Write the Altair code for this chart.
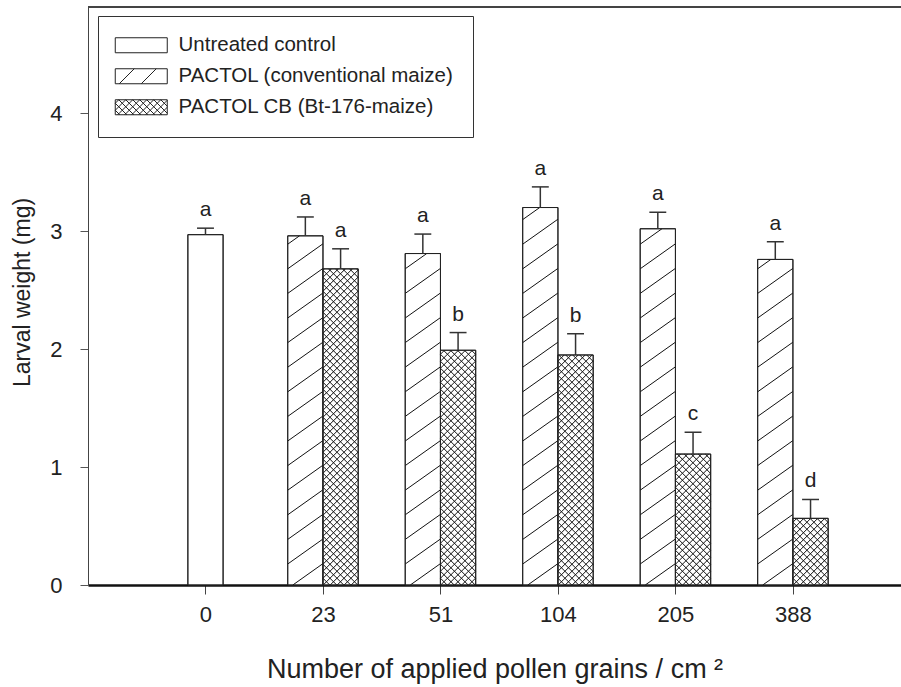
import altair as alt
import pandas as pd

# ---------------- data ----------------
categories = ["0", "23", "51", "104", "205", "388"]
series_names = ["Untreated control", "PACTOL (conventional maize)", "PACTOL CB (Bt-176-maize)"]

control_mean = [2.97]
control_se = [0.055]
control_letters = ["a"]

pactol_mean = [2.96, 2.81, 3.20, 3.02, 2.76]
pactol_se = [0.16, 0.165, 0.175, 0.14, 0.15]
pactol_letters = ["a", "a", "a", "a", "a"]

cb_mean = [2.68, 1.99, 1.95, 1.11, 0.565]
cb_se = [0.17, 0.15, 0.18, 0.185, 0.16]
cb_letters = ["a", "b", "b", "c", "d"]

# ---------------- layout ----------------
W, H = 813, 578
XDOM = [-1, 5.92]
YDOM = [0, 4.9]
BW = 0.3      # bar width in category units
CAP = 0.072   # half cap width
SX = W / (XDOM[1] - XDOM[0])
SY = H / (YDOM[1] - YDOM[0])
FONT = "Liberation Sans"
INK = "#222222"

rows = []
for i, (m, s, l) in enumerate(zip(control_mean, control_se, control_letters)):
    rows.append(dict(series=series_names[0], xc=i, x1=i - BW / 2, x2=i + BW / 2, value=m, upper=m + s, letter=l))
for j, (m, s, l) in enumerate(zip(pactol_mean, pactol_se, pactol_letters)):
    i = j + 1
    rows.append(dict(series=series_names[1], xc=i - BW / 2, x1=i - BW, x2=i, value=m, upper=m + s, letter=l))
for j, (m, s, l) in enumerate(zip(cb_mean, cb_se, cb_letters)):
    i = j + 1
    rows.append(dict(series=series_names[2], xc=i + BW / 2, x1=i, x2=i + BW, value=m, upper=m + s, letter=l))
df = pd.DataFrame(rows)
df["cap1"] = df["xc"] - CAP
df["cap2"] = df["xc"] + CAP


def clip(x0, y0, x1, y1, xmin, xmax, ymin, ymax):
    dx, dy = x1 - x0, y1 - y0
    t0, t1 = 0.0, 1.0
    for p, q in ((-dx, x0 - xmin), (dx, xmax - x0), (-dy, y0 - ymin), (dy, ymax - y0)):
        if p == 0:
            if q < 0:
                return None
        else:
            t = q / p
            if p < 0:
                if t > t1:
                    return None
                t0 = max(t0, t)
            else:
                if t < t0:
                    return None
                t1 = min(t1, t)
    if t1 - t0 <= 1e-9:
        return None
    return (x0 + t0 * dx, y0 + t0 * dy, x0 + t1 * dx, y0 + t1 * dy)


# hatch segments derived from the bars (in pixel-equivalent units, converted back)
segs = []
for r in df.itertuples():
    L, R, Hh = r.x1 * SX, r.x2 * SX, r.value * SY
    w = R - L
    if r.series == series_names[1]:
        k = -3
        while True:
            yl = 21 + 24.6 * k
            if yl > Hh + 30:
                break
            c = clip(L, yl, R, yl + 25, L, R, 0, Hh)
            if c and ((c[2] - c[0]) ** 2 + (c[3] - c[1]) ** 2) > 1:
                segs.append(c)
            k += 1
    elif r.series == series_names[2]:
        step = 7.0
        b = -w - step
        while b < Hh + w + step:
            for (ya, yb) in ((b, b + w), (b, b - w)):
                c = clip(L, ya, R, yb, L, R, 0, Hh)
                if c and ((c[2] - c[0]) ** 2 + (c[3] - c[1]) ** 2) > 1:
                    segs.append(c)
            b += step
hatch = pd.DataFrame([dict(hx=a / SX, hx2=c / SX, hy=b / SY, hy2=d / SY) for a, b, c, d in segs])

# ---------------- legend symbols (custom SVG paths) ----------------
SC = 8.0  # px per symbol unit (sqrt(256)/2)
RX0, RX1, RY0, RY1 = -12, 40, -7.5, 7.5


def pth(x0, y0, x1, y1):
    return f"M{x0 / SC:.3f},{y0 / SC:.3f}L{x1 / SC:.3f},{y1 / SC:.3f}"


rect = f"M{RX0 / SC:.4f},{RY0 / SC:.4f}H{RX1 / SC:.4f}V{RY1 / SC:.4f}H{RX0 / SC:.4f}Z"
sym_plain = rect
sym_hatch = rect + "".join(pth(x0, RY1, x0 + 15, RY0) for x0 in (-8, 14))
cross = []
b = -60.0
while b < 60:
    for (ya, yb) in ((b, b + 52), (b, b - 52)):
        c = clip(RX0, ya, RX1, yb, RX0, RX1, RY0, RY1)
        if c and ((c[2] - c[0]) ** 2 + (c[3] - c[1]) ** 2) > 1:
            cross.append(pth(*c))
    b += 7.0
sym_cross = rect + "".join(cross)

# ---------------- chart ----------------
xs = alt.Scale(domain=XDOM, nice=False, zero=False)
ys = alt.Scale(domain=YDOM, nice=False, zero=False)
label_js = "[" + ",".join(f"'{c}'" for c in categories) + "][datum.value]"
x_axis = alt.Axis(values=list(range(len(categories))), labelExpr=label_js, grid=False,
                  tickSize=9, tickColor="#444444", domainColor="#111111", domainWidth=2.5,
                  labelFontSize=22, labelPadding=10, labelColor=INK, labelFont=FONT,
                  title="Number of applied pollen grains / cm \u00b2", titleFont=FONT,
                  titleFontSize=27, titleFontWeight="normal", titleColor=INK,
                  titleBaseline="alphabetic", titleY=92)
y_axis = alt.Axis(values=[0, 1, 2, 3, 4], format="d", grid=False, tickSize=8,
                  tickColor="#555555", domainColor="#444444", labelFontSize=22,
                  labelPadding=18, labelColor=INK, labelFont=FONT,
                  title="Larval weight (mg)", titleFont=FONT, titleFontSize=23,
                  titleFontWeight="normal", titleColor=INK, titleX=-54, titleY=285)

base = alt.Chart(df)

bars = base.mark_bar(fill="white", stroke=INK, strokeWidth=1).encode(
    x=alt.X("x1:Q", scale=xs, axis=x_axis), x2="x2",
    y=alt.Y("value:Q", scale=ys, axis=y_axis), y2=alt.datum(0))

hatch_layer = alt.Chart(hatch).mark_rule(color="#111111", strokeWidth=1).encode(
    x=alt.X("hx:Q", scale=xs, axis=x_axis), x2="hx2",
    y=alt.Y("hy:Q", scale=ys, axis=y_axis), y2="hy2")

bars_outline = base.mark_bar(fill="white", fillOpacity=0, stroke=INK, strokeWidth=1).encode(
    x=alt.X("x1:Q", scale=xs, axis=x_axis), x2="x2",
    y=alt.Y("value:Q", scale=ys, axis=y_axis), y2=alt.datum(0))

err_v = base.mark_rule(color="#333333", strokeWidth=1.5).encode(
    x=alt.X("xc:Q", scale=xs, axis=x_axis),
    y=alt.Y("value:Q", scale=ys, axis=y_axis), y2="upper")

err_cap = base.mark_rule(color="#333333", strokeWidth=1.5).encode(
    x=alt.X("cap1:Q", scale=xs, axis=x_axis), x2="cap2",
    y=alt.Y("upper:Q", scale=ys, axis=y_axis))

letters = base.mark_text(baseline="alphabetic", dy=-12, fontSize=21, font=FONT, color=INK).encode(
    x=alt.X("xc:Q", scale=xs, axis=x_axis),
    y=alt.Y("upper:Q", scale=ys, axis=y_axis), text="letter:N")

legend_pts = base.mark_point(size=1).encode(
    x=alt.X("xc:Q", scale=xs, axis=x_axis),
    y=alt.Y("value:Q", scale=ys, axis=y_axis),
    opacity=alt.value(0),
    shape=alt.Shape("series:N",
                    scale=alt.Scale(domain=series_names, range=[sym_plain, sym_hatch, sym_cross]),
                    legend=alt.Legend(title=None, orient="none", legendX=10, legendY=9,
                                      symbolSize=256, symbolStrokeColor=INK, symbolFillColor="white",
                                      symbolStrokeWidth=1, symbolOpacity=1,
                                      labelFont=FONT, labelFontSize=20.5, labelColor=INK,
                                      labelOffset=41, labelLimit=500, padding=19, rowPadding=10,
                                      strokeColor="#333333", fillColor="white",
                                      labelExpr="datum.label + '\u00a0\u00a0\u00a0\u00a0'")))

frame_top = alt.Chart(df).mark_rule(color="#444444", strokeWidth=1).encode(
    x=alt.value(0), x2=alt.value(W), y=alt.value(0))

chart = alt.layer(bars, hatch_layer, bars_outline, err_v, err_cap, letters, legend_pts, frame_top).properties(
    width=W, height=H,
    autosize=alt.AutoSizeParams(type="none"),
    padding={"left": 88, "top": 7, "right": 0, "bottom": 102},
).configure_view(stroke=None).configure(font=FONT, background="white")

chart.save("out.html", embed_options={"renderer": "svg", "actions": False})
